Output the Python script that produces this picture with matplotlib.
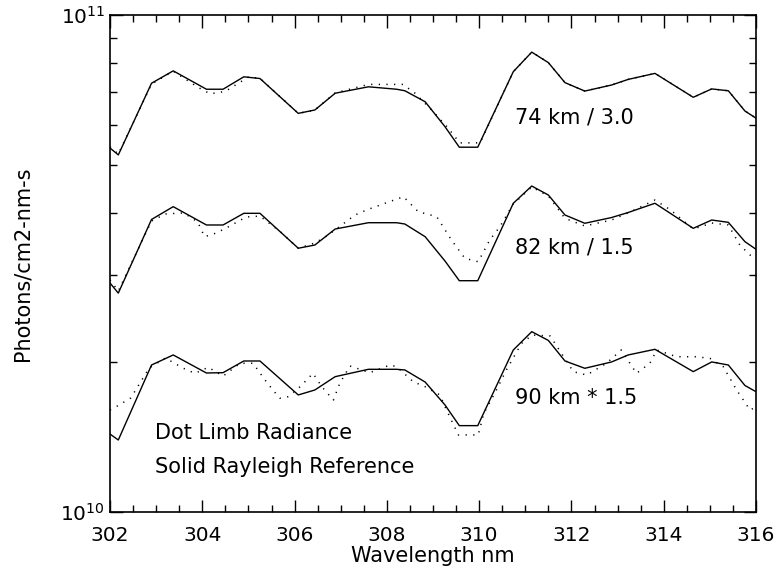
import numpy as np
import matplotlib
matplotlib.use("Agg")
import matplotlib.pyplot as plt
from matplotlib.ticker import LogLocator, NullFormatter, MultipleLocator

plt.rcParams['font.family'] = 'DejaVu Sans'

# Rayleigh reference (solid), shared wavelength grid, units of 1e10
wl_ref = [302.00, 302.18, 302.90, 303.37, 304.09, 304.45, 304.90, 305.25, 306.08,
          306.44, 306.88, 307.60, 308.21, 308.39, 308.83, 309.26, 309.57, 309.97,
          310.74, 311.14, 311.50, 311.86, 312.29, 312.87, 313.23, 313.81, 314.64,
          315.04, 315.40, 315.76, 316.00]
ref_74 = [5.40, 5.23, 7.29, 7.72, 7.09, 7.09, 7.51, 7.45, 6.34,
          6.44, 6.96, 7.17, 7.09, 7.04, 6.69, 5.96, 5.42, 5.42,
          7.69, 8.42, 8.02, 7.31, 7.03, 7.23, 7.42, 7.63, 6.83,
          7.10, 7.04, 6.41, 6.20]
ref_82 = [2.889, 2.757, 3.878, 4.115, 3.780, 3.780, 3.990, 3.990, 3.394,
          3.445, 3.710, 3.820, 3.820, 3.797, 3.580, 3.199, 2.920, 2.920,
          4.180, 4.528, 4.343, 3.959, 3.810, 3.913, 4.005, 4.180, 3.722,
          3.868, 3.827, 3.499, 3.378]
ref_90 = [1.435, 1.396, 1.976, 2.070, 1.904, 1.907, 2.013, 2.013, 1.720,
          1.760, 1.872, 1.937, 1.937, 1.931, 1.826, 1.642, 1.492, 1.492,
          2.118, 2.306, 2.214, 2.013, 1.946, 2.004, 2.070, 2.125, 1.916,
          2.004, 1.976, 1.797, 1.746]

# limb radiance (dotted)
wl_74 = [302.00, 302.18, 302.90, 303.37, 303.90, 304.17, 304.50, 304.75, 305.00,
         305.25, 306.08, 306.44, 306.88, 307.30, 307.60, 308.00, 308.35, 308.61,
         308.97, 309.33, 309.58, 310.02, 310.74, 311.14, 311.50, 311.86, 312.29,
         312.87, 313.23, 313.81, 314.64, 315.04, 315.40, 315.76, 316.00]
limb_74 = [5.43, 5.25, 7.26, 7.71, 7.16, 6.94, 7.02, 7.26, 7.50,
           7.46, 6.34, 6.44, 6.97, 7.13, 7.25, 7.25, 7.25, 6.96,
           6.44, 5.92, 5.53, 5.53, 7.69, 8.42, 8.02, 7.31, 7.03,
           7.23, 7.42, 7.63, 6.83, 7.10, 7.04, 6.41, 6.20]

wl_82 = [302.00, 302.18, 302.90, 303.20, 303.60, 303.90, 304.05, 304.30, 304.60,
         304.95, 305.25, 305.70, 306.08, 306.44, 306.70, 307.02, 307.31, 307.56,
         307.96, 308.36, 308.68, 309.08, 309.40, 309.69, 309.98, 310.23, 310.45,
         310.74, 311.14, 311.50, 311.86, 312.29, 312.87, 313.23, 313.81, 314.15,
         314.64, 315.04, 315.40, 315.65, 315.87, 316.00]
limb_82 = [2.930, 2.784, 3.851, 3.978, 3.998, 3.833, 3.580, 3.641, 3.763,
           3.922, 3.940, 3.659, 3.394, 3.477, 3.593, 3.780, 3.959, 4.052,
           4.180, 4.309, 4.020, 3.929, 3.526, 3.240, 3.188, 3.526, 3.750,
           4.166, 4.507, 4.323, 3.898, 3.763, 3.868, 3.998, 4.243, 4.052,
           3.710, 3.815, 3.780, 3.445, 3.289, 3.273]

wl_90 = [302.00, 302.20, 302.45, 302.85, 303.20, 303.59, 303.84, 304.13, 304.45,
         304.82, 305.10, 305.36, 305.53, 305.68, 305.86, 306.12, 306.40, 306.59,
         306.84, 306.98, 307.20, 307.63, 308.07, 308.21, 308.57, 308.83, 309.15,
         309.26, 309.55, 309.98, 310.10, 310.34, 310.59, 310.92, 311.15, 311.54,
         311.90, 312.04, 312.33, 312.76, 313.08, 313.41, 313.70, 313.85, 314.28,
         314.71, 315.00, 315.29, 315.58, 315.87, 316.00]
limb_90 = [1.604, 1.642, 1.696, 1.949, 2.041, 1.946, 1.901, 1.955, 1.877,
           1.992, 1.992, 1.843, 1.760, 1.694, 1.706, 1.787, 1.901, 1.787,
           1.680, 1.815, 1.967, 1.907, 1.976, 1.961, 1.829, 1.787, 1.720,
           1.629, 1.429, 1.429, 1.579, 1.734, 1.931, 2.185, 2.270, 2.260,
           2.007, 1.916, 1.886, 1.992, 2.118, 1.901, 1.992, 2.118, 2.053,
           2.053, 2.038, 1.961, 1.760, 1.604, 1.627]

labels = ["74 km / 3.0", "82 km / 1.5", "90 km * 1.5"]
label_y = [6.23, 3.40, 1.696]

fig = plt.figure(figsize=(7.78, 5.71), dpi=100)
ax = fig.add_axes([110/778, 1-512/571, 646/778, 497/571])

scale = 1e10
for wl, v in [(wl_ref, ref_74), (wl_ref, ref_82), (wl_ref, ref_90)]:
    ax.plot(wl, np.array(v)*scale, color='black', lw=1.0)
for wl, v in [(wl_74, limb_74), (wl_82, limb_82), (wl_90, limb_90)]:
    ax.plot(wl, np.array(v)*scale, color='black', lw=1.1, linestyle=(0, (0.8, 4.2)))

for txt, yv in zip(labels, label_y):
    ax.text(310.78, yv*scale, txt, fontsize=15, va='center', ha='left')
ax.text(302.97, 1.442e10, "Dot Limb Radiance", fontsize=15, va='center', ha='left')
ax.text(302.97, 1.232e10, "Solid Rayleigh Reference", fontsize=15, va='center', ha='left')

ax.set_yscale('log')
ax.set_xlim(302, 316)
ax.set_ylim(1e10, 1e11)
ax.xaxis.set_major_locator(MultipleLocator(2))
ax.xaxis.set_minor_locator(MultipleLocator(0.5))
ax.yaxis.set_minor_locator(LogLocator(base=10, subs=np.arange(2, 10)))
ax.yaxis.set_minor_formatter(NullFormatter())
ax.tick_params(which='both', direction='in', top=True, right=True, width=1.0, labelsize=14.5)
ax.tick_params(which='major', length=9)
ax.tick_params(which='minor', length=5)
ax.tick_params(axis='x', pad=10)
for s in ax.spines.values():
    s.set_linewidth(1.2)

ax.set_xlabel("Wavelength nm", fontsize=15, labelpad=1)
ax.set_ylabel("Photons/cm2-nm-s", fontsize=15, labelpad=20)

fig.savefig("out.png", dpi=100)
